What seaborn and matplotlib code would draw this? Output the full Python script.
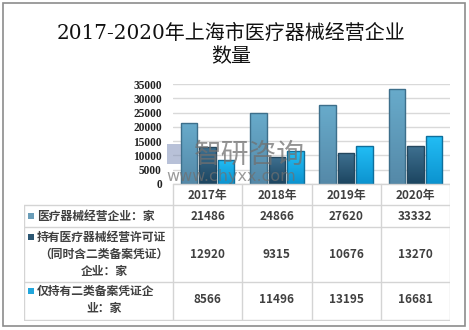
import numpy as np
import pandas as pd
import matplotlib
matplotlib.use("Agg")
import matplotlib.pyplot as plt
import matplotlib.colors as mcolors
from matplotlib.patches import Rectangle
import seaborn as sns

# ---------------- data ----------------
years = ["2017年", "2018年", "2019年", "2020年"]
series_names = ["医疗器械经营企业：家",
                "持有医疗器械经营许可证（同时含二类备案凭证）企业：家",
                "仅持有二类备案凭证企业：家"]
series_label_lines = [["医疗器械经营企业：家"],
                      ["持有医疗器械经营许可证", "（同时含二类备案凭证）", "企业：家"],
                      ["仅持有二类备案凭证企", "业：家"]]
s1 = [21486, 24866, 27620, 33332]
s2 = [12920, 9315, 10676, 13270]
s3 = [8566, 11496, 13195, 16681]
yticks = [0, 5000, 10000, 15000, 20000, 25000, 30000, 35000]
title = "2017-2020年上海市医疗器械经营企业\n数量"

top_colors = ["#68ABCB", "#3E7090", "#22BDF5"]
bot_colors = ["#5589A8", "#1C4560", "#0C93CF"]
edge_colors = ["#3D6F8B", "#24475E", "#0E6F9C"]
legend_colors = ["#6A9DB8", "#2D5773", "#22A6DC"]

df = pd.DataFrame({
    "year": years * 3,
    "series": sum([[n] * 4 for n in series_names], []),
    "value": s1 + s2 + s3,
})

W, H = 469, 330
fig = plt.figure(figsize=(W / 100, H / 100), dpi=100)
sns.set_style("white")
plt.rcParams["font.family"] = ["Noto Sans CJK SC", "DejaVu Sans"]

def fx(px):
    return px / W

def fy(py):
    return 1 - py / H

# outer border
fig.add_artist(Rectangle((fx(2.5), fy(325.5)), fx(462), (323 / H),
                         transform=fig.transFigure, fill=False,
                         edgecolor="#8C8C8C", linewidth=1.2))

# title
fig.text(fx(231), fy(45), title, ha="center", va="center",
         fontsize=14.4, color="#111111", linespacing=1.25,
         family=["DejaVu Serif", "Noto Sans CJK SC"])

# ---------------- bar axes ----------------
ax_l, ax_r, ax_t, ax_b = 173, 450, 84, 184
ax = fig.add_axes([fx(ax_l), fy(ax_b), fx(ax_r - ax_l), (ax_b - ax_t) / H])
palette = dict(zip(series_names, top_colors))
sns.barplot(data=df, x="year", y="value", hue="series", hue_order=series_names,
            order=years, palette=palette, ax=ax, legend=False, width=0.8,
            saturation=1)
ax.set_ylim(0, 35000)
ax.set_xlim(-0.5, 3.5)
ax.set_yticks(yticks)
ax.set_yticklabels([str(t) for t in yticks], family=["Liberation Serif"],
                   fontweight="bold", fontsize=8.3, color="#222222")
ax.set_xticks([])
ax.set_xlabel("")
ax.set_ylabel("")
ax.tick_params(axis="y", length=0, pad=8)
for s in ax.spines.values():
    s.set_visible(False)
ax.grid(axis="y", color="#D9D9D9", linewidth=1)
ax.set_axisbelow(True)

# reshape bars + gradient fill
patches = [p for p in ax.patches if p.get_height() > 0]
for i, p in enumerate(patches):
    k = i // 4
    x0, w = p.get_x(), p.get_width()
    nw = w * 0.9
    p.set_x(x0 + (w - nw) / 2)
    p.set_width(nw)
    p.set_edgecolor(edge_colors[k])
    p.set_linewidth(1.0)
    cmap = mcolors.LinearSegmentedColormap.from_list(
        "g%d" % k, [bot_colors[k], top_colors[k]])
    grad = np.linspace(0, 1, 64).reshape(-1, 1)
    im = ax.imshow(grad, extent=[p.get_x(), p.get_x() + nw, 0, p.get_height()],
                   origin="lower", aspect="auto", cmap=cmap, zorder=2)
    im.set_clip_path(p)
    p.set_facecolor("none")
    p.set_zorder(3)
ax.set_xlim(-0.5, 3.5)
ax.set_ylim(0, 35000)

# ---------------- table ----------------
tab = fig.add_axes([fx(24), fy(321), fx(450 - 24), (321 - 183) / H])
tab.set_xlim(24, 450)
tab.set_ylim(321, 183)
tab.axis("off")
gc = "#D4D4D4"
cols = [173, 242.25, 311.5, 380.75, 450]
rows = [184, 205, 227, 282, 320]
tab.plot([173, 450], [184, 184], color=gc, lw=1)
for r in rows[1:]:
    tab.plot([24, 450], [r, r], color=gc, lw=1)
tab.plot([24, 24], [205, 320], color=gc, lw=1)
for c in cols:
    tab.plot([c, c], [184, 320], color=gc, lw=1)

tfont = dict(fontsize=8.5, color="#404040", fontweight="bold",
             family=["Noto Sans CJK SC", "DejaVu Sans"])
for j, y in enumerate(years):
    cx = (cols[j] + cols[j + 1]) / 2
    tab.text(cx, 195, y, ha="center", va="center", **tfont)

values = [s1, s2, s3]
row_centers = [216, 254.5, 299.5]
line_gap = 17
for k in range(3):
    lines = series_label_lines[k]
    n = len(lines)
    y0 = row_centers[k] - (n - 1) * line_gap / 2
    for li, txt in enumerate(lines):
        yy = y0 + li * line_gap
        if li == 0:
            tab.add_patch(Rectangle((28, yy - 3.5), 6, 6, facecolor=legend_colors[k],
                                    edgecolor="none"))
            tab.text(37, yy, txt, ha="left", va="center", **tfont)
        else:
            tab.text(104, yy, txt, ha="center", va="center", **tfont)
    for j in range(4):
        cx = (cols[j] + cols[j + 1]) / 2
        tab.text(cx, row_centers[k], str(values[k][j]), ha="center",
                 va="center", **tfont)

# watermark
fig.text(fx(194), fy(155), "智研咨询", ha="left", va="center", fontsize=20,
         color="#707070", alpha=0.75, family=["Noto Sans CJK SC"], zorder=10)
fig.text(fx(166), fy(177), "www.chyxx.com", ha="left", va="center",
         fontsize=11.5, color="#707070", alpha=0.7, family=["DejaVu Sans"],
         zorder=10)
fig.add_artist(Rectangle((fx(167), fy(164)), fx(14), 20 / H,
                         transform=fig.transFigure, facecolor="#7F8FB8",
                         alpha=0.55, edgecolor="none", zorder=10))

fig.savefig("out.png", dpi=100)
